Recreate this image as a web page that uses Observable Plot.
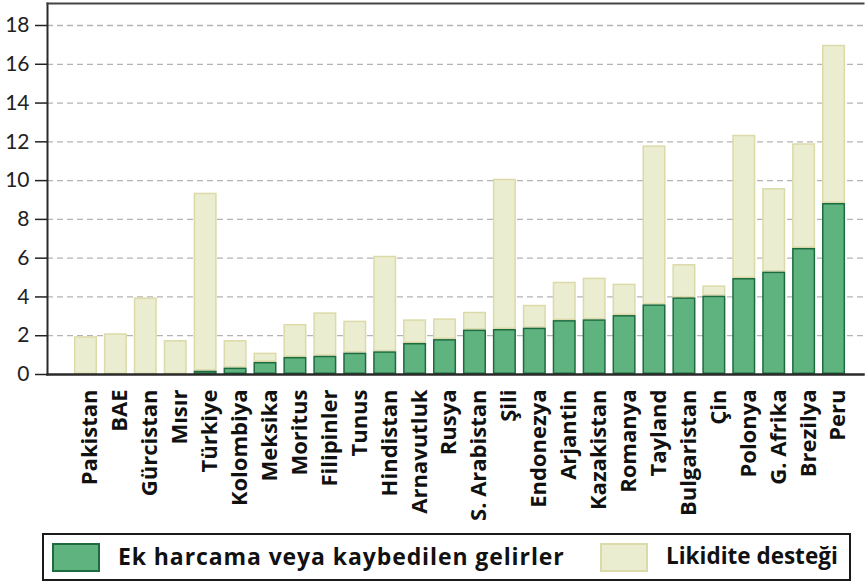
<!DOCTYPE html>
<html>
<head>
<meta charset="utf-8">
<script src="https://cdn.jsdelivr.net/npm/d3@7"></script>
<script src="https://cdn.jsdelivr.net/npm/@observablehq/plot@0.6"></script>
<style>
  html, body { margin: 0; padding: 0; background: #fff; }
  #wrap { position: relative; width: 866px; height: 582px; }
  #chart svg { display: block; }
  .legend { position: absolute; left: 42px; top: 533px; width: 805px; height: 44px;
            border: 2px solid #1a1a1a; font-family: "Open Sans", sans-serif; font-weight: 700;
            font-size: 23px; color: #111; }
  .sw { position: absolute; top: 8px; width: 44px; height: 25px; }
  .lt { position: absolute; top: 6px; line-height: 30px; white-space: nowrap; }
</style>
</head>
<body>
<div id="wrap">
  <div id="chart"></div>
  <div class="legend">
    <div class="sw" style="left:8px;background:#5fb37f;border:2px solid #1d6b3f;"></div>
    <div class="lt" style="left:74px;letter-spacing:0.9px;">Ek harcama veya kaybedilen gelirler</div>
    <div class="sw" style="left:556px;background:#ebedd1;border:2px solid #dcdaa8;"></div>
    <div class="lt" style="left:622px;font-size:22.5px;">Likidite desteği</div>
  </div>
</div>
<script>
const countries = ["Pakistan","BAE","Gürcistan","Mısır","Türkiye","Kolombiya","Meksika","Moritus","Filipinler","Tunus","Hindistan","Arnavutluk","Rusya","S. Arabistan","Şili","Endonezya","Arjantin","Kazakistan","Romanya","Tayland","Bulgaristan","Çin","Polonya","G. Afrika","Brezilya","Peru"];
// Ek harcama veya kaybedilen gelirler (green, bottom segment)
const ekHarcama = [0, 0, 0, 0, 0.17, 0.33, 0.62, 0.88, 0.94, 1.1, 1.17, 1.6, 1.8, 2.29, 2.32, 2.39, 2.78, 2.82, 3.04, 3.59, 3.95, 4.04, 4.95, 5.28, 6.5, 8.82];
// Likidite desteği (beige, top segment, stacked on green)
const likidite = [1.95, 2.1, 3.95, 1.75, 9.18, 1.42, 0.48, 1.7, 2.24, 1.65, 4.93, 1.22, 1.07, 0.92, 7.75, 1.18, 1.98, 2.15, 1.62, 8.2, 1.72, 0.53, 7.39, 4.31, 5.4, 8.16];
const yTicks = [0, 2, 4, 6, 8, 10, 12, 14, 16, 18];

const rows = countries.map((c, i) => ({
  country: c,
  ek: ekHarcama[i],
  total: ekHarcama[i] + likidite[i]
}));

const chart = Plot.plot({
  width: 866,
  height: 530,
  marginLeft: 47,
  marginRight: 3,
  marginTop: 3,
  marginBottom: 156,
  style: { fontFamily: "Lato, sans-serif", background: "#fff", overflow: "visible" },
  x: { domain: countries, range: [70.5, 848.5], paddingInner: 0.23, paddingOuter: 0.115, round: false },
  y: { domain: [0, 18], insetTop: 22 },
  marks: [
    Plot.gridY(yTicks.filter(d => d > 0), { stroke: "#b4b4b4", strokeOpacity: 1, strokeWidth: 1.3, strokeDasharray: "6,4" }),
    Plot.barY(rows, { x: "country", y1: "ek", y2: "total", fill: "#ebedd1", stroke: "#dcdaa8", strokeWidth: 1.5, inset: 0.75 }),
    Plot.barY(rows.filter(d => d.ek > 0), { x: "country", y1: 0, y2: "ek", fill: "#5fb37f", stroke: "#1d6b3f", strokeWidth: 1.5, inset: 0.75 }),
    Plot.frame({ anchor: "left", stroke: "#2a2a2a", strokeWidth: 2 }),
    Plot.frame({ anchor: "top", stroke: "#444", strokeWidth: 2 }),
    Plot.frame({ anchor: "bottom", stroke: "#2a2a2a", strokeWidth: 2.5 }),
    Plot.axisY({ ticks: yTicks, tickSize: 12, tickPadding: 6, stroke: "#222", strokeWidth: 1.5, fill: "#222", label: null }),
    Plot.axisX({ tickRotate: -90, tickSize: 0, tickPadding: 15, fontWeight: "bold", fill: "#111", label: null })
  ]
});
d3.select(chart).selectAll('g[aria-label="y-axis tick label"]')
  .attr("font-size", 21).style("font-size", "21px");
d3.select(chart).selectAll('g[aria-label="x-axis tick label"]')
  .attr("font-size", 22).style("font-size", "22px")
  .style("font-family", "'Open Sans', sans-serif");
d3.select(chart).selectAll('g[aria-label="x-axis tick label"] text')
  .attr("dy", "0.2em");
document.getElementById("chart").appendChild(chart);
</script>
</body>
</html>
